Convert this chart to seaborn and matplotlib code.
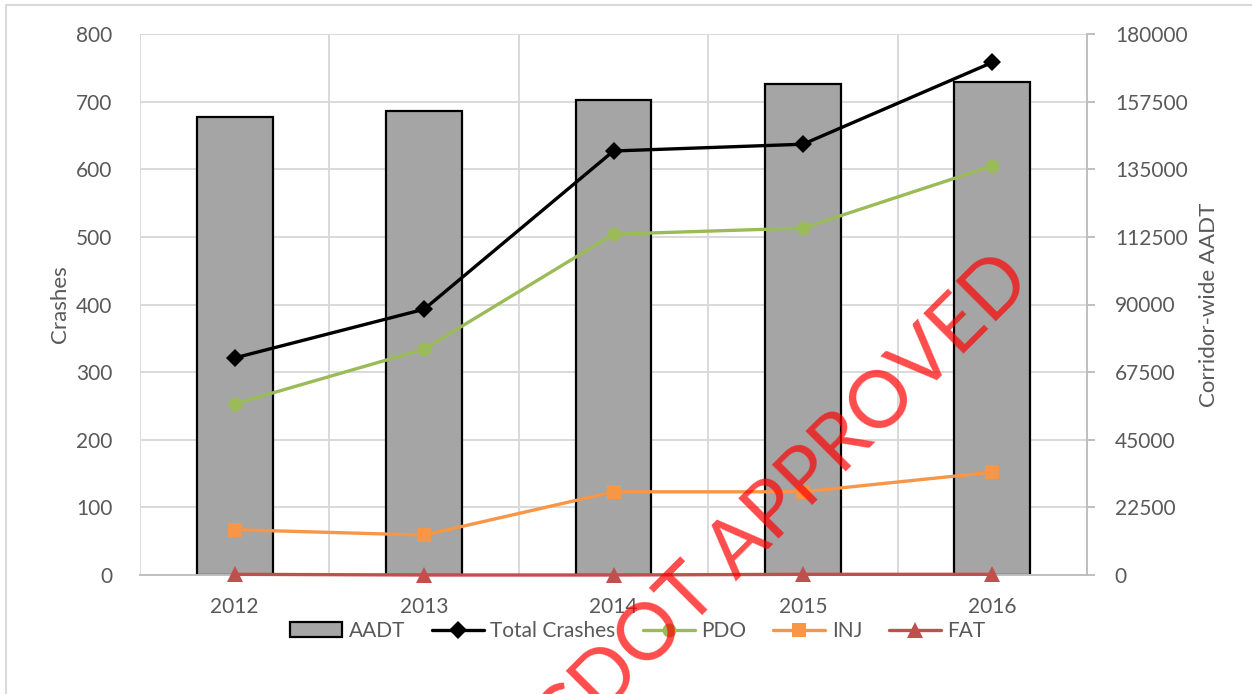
import matplotlib
matplotlib.use("Agg")
import matplotlib.pyplot as plt
import matplotlib.ticker
from matplotlib.patches import Rectangle
import seaborn as sns
import numpy as np

years = ["2012", "2013", "2014", "2015", "2016"]
aadt = [152400, 154400, 158000, 163400, 164000]
total_crashes = [321, 393, 627, 637, 758]
pdo = [253, 334, 504, 513, 605]
inj = [67, 59, 123, 123, 152]
fat = [1, 0, 0, 1, 1]

sns.set_style("white")
plt.rcParams['font.family'] = ['Lato', 'DejaVu Sans']

TXT = '#595959'
GRID = '#D9D9D9'

fig = plt.figure(figsize=(12.52, 6.94), dpi=100)
ax = fig.add_axes([140 / 1252, 1 - 575 / 694, 947 / 1252, 541 / 694])

# bars (secondary axis in the original) go on the bottom axes so they sit under the lines
sns.barplot(x=years, y=aadt, ax=ax, color="#A5A5A5", saturation=1, width=0.4,
            edgecolor="black", linewidth=1.6, label="AADT", zorder=2)
if ax.get_legend() is not None:
    ax.get_legend().remove()
ax.set_ylim(0, 180000)
ax.set_xlim(-0.5, len(years) - 0.5)
ax.yaxis.set_major_locator(matplotlib.ticker.MultipleLocator(22500))
ax.xaxis.set_minor_locator(matplotlib.ticker.FixedLocator(np.arange(len(years) + 1) - 0.5))
ax.set_axisbelow(True)
ax.grid(axis='y', which='major', color=GRID, lw=1.4)
ax.grid(axis='x', which='minor', color=GRID, lw=1.4)
ax.set_xlabel("")

axl = ax.twinx()
ax.yaxis.tick_right()
ax.yaxis.set_label_position('right')
axl.yaxis.tick_left()
axl.yaxis.set_label_position('left')

x = np.arange(len(years))
sns.lineplot(x=x, y=total_crashes, ax=axl, color="black", lw=2.4, marker="D",
             markersize=9, markeredgewidth=0, label="Total Crashes")
sns.lineplot(x=x, y=pdo, ax=axl, color="#9BBB59", lw=2.4, marker="o",
             markersize=10, markeredgewidth=0, label="PDO")
sns.lineplot(x=x, y=inj, ax=axl, color="#F79646", lw=2.4, marker="s",
             markersize=10, markeredgewidth=0, label="INJ")
sns.lineplot(x=x, y=fat, ax=axl, color="#C0504D", lw=2.4, marker="^",
             markersize=11, markeredgewidth=0, label="FAT", clip_on=False)
axl.set_ylim(0, 800)
axl.set_xlim(-0.5, len(years) - 0.5)
axl.yaxis.set_major_locator(matplotlib.ticker.MultipleLocator(100))
axl.get_legend().remove()

for a in (ax, axl):
    for s in a.spines.values():
        s.set_visible(False)
ax.spines['bottom'].set_visible(True)
ax.spines['bottom'].set_color('#BFBFBF')
ax.spines['bottom'].set_linewidth(1.4)
ax.spines['right'].set_visible(True)
ax.spines['right'].set_color('#BFBFBF')
ax.spines['right'].set_linewidth(1.4)

ax.tick_params(axis='x', which='both', length=0, pad=16, labelsize=15, labelcolor=TXT)
ax.tick_params(axis='y', length=6, width=1.4, color='#BFBFBF', pad=14, labelsize=15, labelcolor=TXT)
axl.tick_params(axis='y', length=0, pad=20, labelsize=15, labelcolor=TXT)

axl.set_ylabel("Crashes", fontsize=16, color=TXT, labelpad=4)
ax.set_ylabel("Corridor-wide AADT", fontsize=16, color=TXT, labelpad=8)

handles, labels = ax.get_legend_handles_labels()
h2, l2 = axl.get_legend_handles_labels()
fig.legend(handles + h2, labels + l2, loc='center', bbox_to_anchor=(638 / 1252, 1 - 631 / 694),
           ncol=5, frameon=False, fontsize=15, handlelength=2.5, columnspacing=1.3,
           handletextpad=0.3, labelcolor=TXT)

# chart area border
fig.patches.append(Rectangle((6 / 1252, -0.05), 1.0, 1.05 - 5 / 694, transform=fig.transFigure,
                             fill=False, edgecolor=GRID, lw=1.5))

# watermark
fig.text(784 / 1252, 1 - 503 / 694, "CDOT APPROVED", rotation=45, rotation_mode='anchor',
         ha='center', va='center', fontsize=57, color='red', alpha=0.7, zorder=20)

plt.savefig('out.png', dpi=100)
